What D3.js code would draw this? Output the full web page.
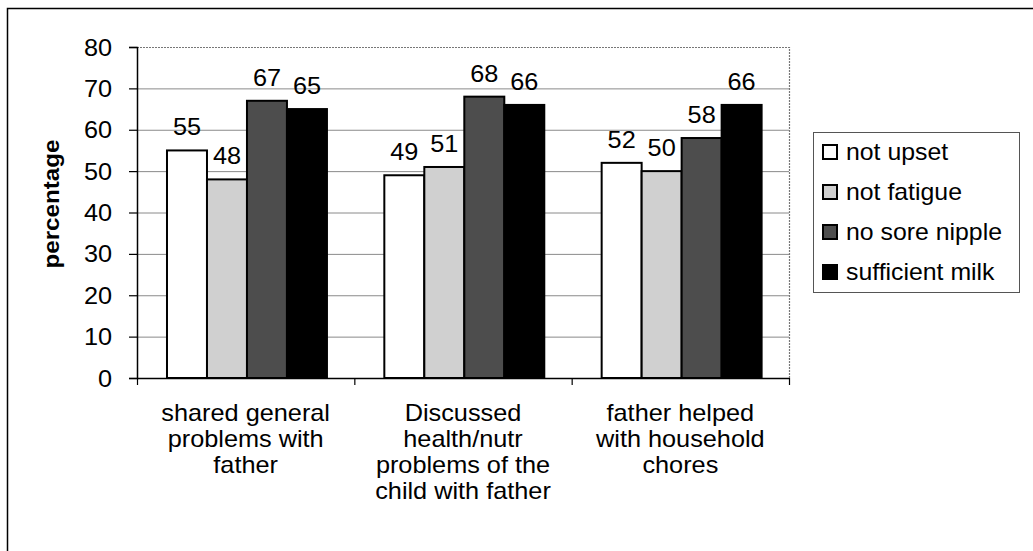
<!DOCTYPE html>
<html>
<head>
<meta charset="utf-8">
<script src="https://cdn.jsdelivr.net/npm/d3@7"></script>
<style>
  body { margin: 0; background: #fff; }
  text { font-family: "Liberation Sans", Arial, sans-serif; fill: #000; }
</style>
</head>
<body>
<div id="chart"></div>
<script>
// data
var categories = [
  ["shared general", "problems with", "father"],
  ["Discussed", "health/nutr", "problems of the", "child with father"],
  ["father helped", "with household", "chores"]
];
var seriesNames = ["not upset", "not fatigue", "no sore nipple", "sufficient milk"];
var notUpset = [55, 49, 52];
var notFatigue = [48, 51, 50];
var noSoreNipple = [67, 68, 58];
var sufficientMilk = [65, 66, 66];
var yTicks = [0, 10, 20, 30, 40, 50, 60, 70, 80];
var yTitle = "percentage";

var seriesValues = [notUpset, notFatigue, noSoreNipple, sufficientMilk];
var fills = ["#ffffff", "#d0d0d0", "#4d4d4d", "#000000"];

var svgWidth = 1033;
var svgHeight = 551;

// plot area
var plot = { left: 137, right: 789, top: 47, bottom: 378 };

var svg = d3.select("#chart")
  .append("svg")
  .attr("width", svgWidth)
  .attr("height", svgHeight);

svg.append("rect")
  .attr("width", svgWidth)
  .attr("height", svgHeight)
  .attr("fill", "#fff");

// outer frame (right/bottom run off the picture like in the scan)
svg.append("rect")
  .attr("x", 7.5)
  .attr("y", 8.5)
  .attr("width", 1040)
  .attr("height", 560)
  .attr("fill", "none")
  .attr("stroke", "#000")
  .attr("stroke-width", 1.5);

// text in the scan is a bit wider than it is tall
function stretched(sel, x, y, sx, rot) {
  sel.attr("transform", "translate(" + x + "," + y + ")" + (rot ? " rotate(" + rot + ")" : "") + " scale(" + sx + ",1)");
  return sel;
}

var x0 = d3.scaleBand()
  .domain(d3.range(categories.length))
  .range([plot.left, plot.right])
  .padding(0);

var bw = x0.bandwidth();
var x1 = d3.scaleBand()
  .domain(d3.range(seriesNames.length))
  .range([bw * 0.138, bw * 0.874])
  .padding(0);

var y = d3.scaleLinear()
  .domain([0, 80])
  .range([plot.bottom, plot.top]);

// gridlines
svg.append("g")
  .selectAll("line")
  .data(yTicks.filter(d => d > 0 && d < 80))
  .enter()
  .append("line")
  .attr("x1", plot.left)
  .attr("x2", plot.right)
  .attr("y1", d => y(d) + 0.5)
  .attr("y2", d => y(d) + 0.5)
  .attr("stroke", "#8a8a8a")
  .attr("stroke-width", 1);

// plot area border (top + right grey)
svg.append("path")
  .attr("d", "M" + plot.left + "," + (plot.top + 0.5) + "H" + (plot.right + 0.5) + "V" + plot.bottom)
  .attr("fill", "none")
  .attr("stroke", "#777")
  .attr("stroke-width", 1.2)
  .attr("stroke-dasharray", "2,1");

// bars
var groups = svg.append("g")
  .selectAll("g")
  .data(categories.map((c, i) => i))
  .enter()
  .append("g")
  .attr("transform", i => "translate(" + x0(i) + ",0)");

groups.selectAll("rect")
  .data(i => seriesValues.map((vals, s) => ({ s: s, v: vals[i] })))
  .enter()
  .append("rect")
  .attr("x", d => x1(d.s))
  .attr("y", d => y(d.v))
  .attr("width", x1.bandwidth())
  .attr("height", d => y(0) - y(d.v))
  .attr("fill", d => fills[d.s])
  .attr("stroke", "#000")
  .attr("stroke-width", 2);

// value labels
groups.selectAll("text")
  .data(i => seriesValues.map((vals, s) => ({ s: s, v: vals[i] })))
  .enter()
  .append("text")
  .attr("text-anchor", "middle")
  .style("font-size", "23px")
  .text(d => d.v)
  .each(function(d) {
    stretched(d3.select(this), x1(d.s) + x1.bandwidth() / 2, y(d.v) - 15, 1.1);
  });

// y axis
var leftAxis = d3.axisLeft(y).tickValues(yTicks).tickSize(8).tickFormat("");
svg.append("g")
  .attr("transform", "translate(" + plot.left + ",0)")
  .call(leftAxis)
  .call(g => g.select(".domain").attr("stroke", "#000").attr("stroke-width", 1.5))
  .call(g => g.selectAll(".tick line").attr("stroke", "#000").attr("stroke-width", 1.2));

svg.append("g")
  .selectAll("text")
  .data(yTicks)
  .enter()
  .append("text")
  .attr("text-anchor", "end")
  .style("font-size", "23px")
  .text(d => d)
  .each(function(d) {
    stretched(d3.select(this), 112, y(d) + 8.5, 1.1);
  });

// x axis with ticks between categories
var xEdges = d3.range(categories.length + 1).map(i => plot.left + i * bw);
svg.append("line")
  .attr("x1", plot.left)
  .attr("x2", plot.right)
  .attr("y1", plot.bottom + 0.5)
  .attr("y2", plot.bottom + 0.5)
  .attr("stroke", "#000")
  .attr("stroke-width", 1.5);

svg.append("g")
  .selectAll("line")
  .data(xEdges)
  .enter()
  .append("line")
  .attr("x1", d => d + 0.5)
  .attr("x2", d => d + 0.5)
  .attr("y1", plot.bottom)
  .attr("y2", plot.bottom + 7)
  .attr("stroke", "#000")
  .attr("stroke-width", 1.2);

// category labels
var catLabels = svg.append("g")
  .selectAll("g")
  .data(categories)
  .enter()
  .append("g");

catLabels.selectAll("text")
  .data((lines, i) => lines.map((t, k) => ({ t: t, k: k, i: i })))
  .enter()
  .append("text")
  .attr("text-anchor", "middle")
  .style("font-size", "23px")
  .text(d => d.t)
  .each(function(d) {
    stretched(d3.select(this), x0(d.i) + bw / 2, 421 + d.k * 26, 1.1);
  });

// y axis title
stretched(svg.append("text")
  .attr("text-anchor", "middle")
  .style("font-size", "22px")
  .style("font-weight", "bold")
  .text(yTitle), 59, 204, 1.1, -90);

// legend
var legend = svg.append("g");
legend.append("rect")
  .attr("x", 813.5)
  .attr("y", 132.5)
  .attr("width", 206)
  .attr("height", 160)
  .attr("fill", "#fff")
  .attr("stroke", "#555")
  .attr("stroke-width", 1);

var items = legend.selectAll("g.item")
  .data(seriesNames)
  .enter()
  .append("g")
  .attr("class", "item")
  .attr("transform", (d, i) => "translate(0," + (152 + i * 40) + ")");

items.append("rect")
  .attr("x", 823)
  .attr("y", -7)
  .attr("width", 14)
  .attr("height", 14)
  .attr("fill", (d, i) => fills[i])
  .attr("stroke", "#000")
  .attr("stroke-width", 2);

items.append("text")
  .style("font-size", "23px")
  .text(d => d)
  .each(function() {
    stretched(d3.select(this), 846, 8, 1.08);
  });
</script>
</body>
</html>
